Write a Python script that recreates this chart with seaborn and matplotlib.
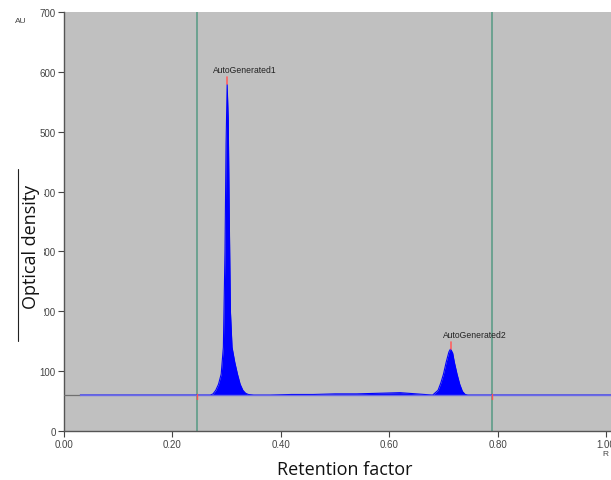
import numpy as np
import pandas as pd
import matplotlib
matplotlib.use("Agg")
import matplotlib.pyplot as plt
import seaborn as sns
from matplotlib.lines import Line2D
from matplotlib.patches import Rectangle

# Densitogram trace (Rf, AU)
rf = [0.030, 0.100, 0.200, 0.260, 0.270, 0.275, 0.280, 0.285, 0.290, 0.294, 0.297,
      0.299, 0.301, 0.303, 0.305, 0.307, 0.310, 0.315, 0.320, 0.325, 0.330, 0.335,
      0.340, 0.350, 0.380, 0.420, 0.460, 0.500, 0.540, 0.580, 0.620, 0.650, 0.680,
      0.690, 0.695, 0.700, 0.705, 0.710, 0.713, 0.717, 0.720, 0.725, 0.730, 0.735,
      0.740, 0.745, 0.760, 0.800, 0.900, 1.009]
au = [60, 60, 60, 60, 60, 62, 68, 78, 95, 140, 300,
      480, 579, 520, 350, 200, 140, 115, 95, 78, 68, 63,
      61, 60, 60, 61, 61, 62, 62, 63, 64, 62, 60,
      68, 80, 95, 115, 132, 137, 130, 115, 95, 78, 66,
      61, 60, 60, 60, 60, 60]

peak_names = ["AutoGenerated1", "AutoGenerated2"]
peak_rf = [0.301, 0.713]
peak_au = [579, 137]
window_rf = [0.245, 0.790]
baseline_au = 60

y_ticks = [0, 100, 200, 300, 400, 500, 600, 700]
x_ticks = [0.0, 0.2, 0.4, 0.6, 0.8, 1.0]

df = pd.DataFrame({"rf": rf, "au": au})

sns.set_theme(style="white")
plt.rcParams["font.family"] = ["Liberation Sans", "DejaVu Sans"]

fig = plt.figure(figsize=(6.11, 4.81), dpi=100)
ax = fig.add_axes([0.1047, 0.1019, 0.8953, 0.8711])
ax.set_facecolor("#c0c0c0")

ax.fill_between(df["rf"], baseline_au, df["au"], where=df["au"] >= baseline_au,
                color="#0000ff", linewidth=0, zorder=2)
sns.lineplot(data=df, x="rf", y="au", ax=ax, color="#0000ff", linewidth=0.8,
             estimator=None, sort=False, zorder=3)
ax.plot([0.0, 0.03], [baseline_au, baseline_au], color="#707070", lw=0.9, zorder=3)
ax.plot([0.03, 1.009], [baseline_au, baseline_au], color="#6a6ae6", lw=1.0, zorder=3)

for w in window_rf:
    ax.axvline(w, color="#5e9c88", lw=1.2, zorder=1)
    ax.plot([w, w], [baseline_au - 6, baseline_au + 2], color="#ff5050", lw=1, zorder=4)

label_offsets = [(0.033, 17), (0.045, 16)]
for name, px, py, (dx, dy) in zip(peak_names, peak_rf, peak_au, label_offsets):
    ax.plot([px, px], [py, py + 12], color="#ff6060", lw=1.2, zorder=4)
    ax.text(px + dx, py + dy, name, ha="center", va="bottom", fontsize=6.2,
            color="#222222")

ax.set_xlim(0, 1.009)
ax.set_ylim(0, 700)
ax.set_xticks(x_ticks)
ax.set_xticklabels([f"{v:.2f}" for v in x_ticks])
ax.set_yticks(y_ticks)
ax.tick_params(axis="both", labelsize=7, colors="#444444", length=4, width=0.8,
               direction="out", bottom=True, left=True, pad=2)
for s in ["top", "right"]:
    ax.spines[s].set_visible(False)
for s in ["left", "bottom"]:
    ax.spines[s].set_color("#555555")
    ax.spines[s].set_linewidth(1.0)
ax.set_xlabel("")
ax.set_ylabel("")

fig.text(0.025, 0.955, "AU", fontsize=6, color="#444444", ha="left", va="center")
fig.text(0.991, 1 - 455 / 481, "R", fontsize=6, color="#444444", ha="center", va="center")

fig.text(0.565, 0.022, "Retention factor", fontsize=13, color="#111111",
         ha="center", va="center", family=["Open Sans", "DejaVu Sans"])

# white panel behind the y-label (covers part of the tick labels, as in the source)
fig.add_artist(Rectangle((18 / 611, 1 - 342 / 481), 26 / 611, 172 / 481,
                         transform=fig.transFigure, facecolor="white",
                         edgecolor="none", zorder=5))
fig.add_artist(Line2D([18 / 611, 18 / 611], [1 - 342 / 481, 1 - 170 / 481],
                      transform=fig.transFigure, color="#222222", lw=0.8, zorder=6))
t = fig.text(31 / 611, 1 - 247 / 481, "Optical density", fontsize=13, color="#111111",
             rotation=90, ha="center", va="center", family=["Open Sans", "DejaVu Sans"])
t.set_zorder(7)

fig.savefig("out.png", dpi=100, facecolor="white")
